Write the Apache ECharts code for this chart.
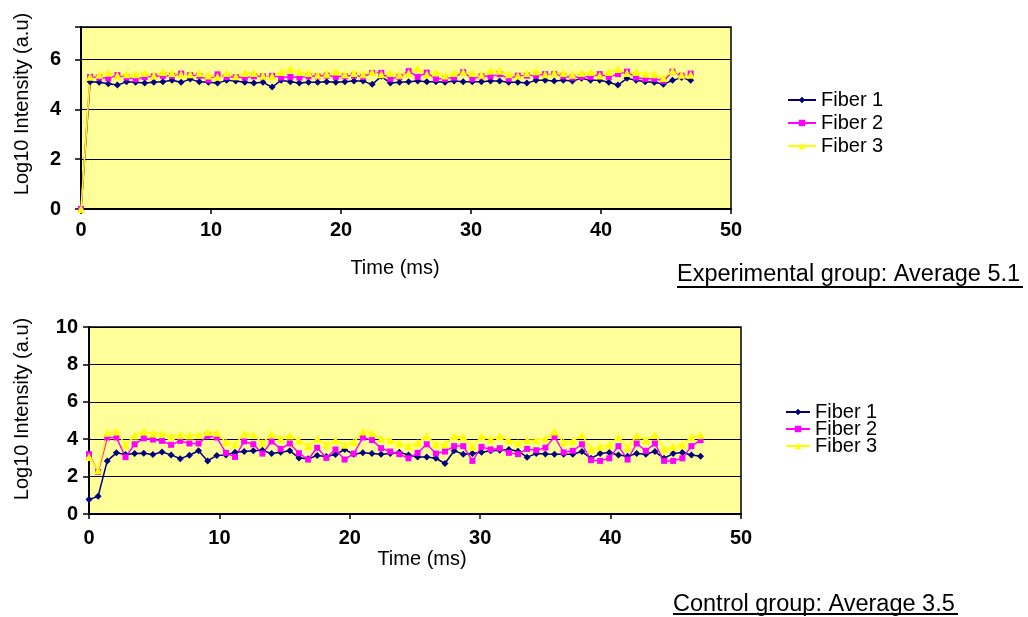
<!DOCTYPE html>
<html lang="en">
<head>
    <meta charset="UTF-8">
    <title>Fiber intensity</title>
    <script src="https://cdn.jsdelivr.net/npm/echarts@6/dist/echarts.min.js"></script>
</head>
<body style="margin:0;background:#fff;">
<div id="chart" style="width: 1028px;height: 617px;"></div>
<script>
    // time axis (ms), one sample every 0.7 ms
    var timeMs = [0,0.7,1.4,2.1,2.8,3.5,4.2,4.9,5.6,6.3,7,7.7,8.4,9.1,9.8,10.5,11.2,11.9,12.6,13.3,
        14,14.7,15.4,16.1,16.8,17.5,18.2,18.9,19.6,20.3,21,21.7,22.4,23.1,23.8,24.5,25.2,25.9,26.6,27.3,
        28,28.7,29.4,30.1,30.8,31.5,32.2,32.9,33.6,34.3,35,35.7,36.4,37.1,37.8,38.5,39.2,39.9,40.6,41.3,
        42,42.7,43.4,44.1,44.8,45.5,46.2,46.9];

    // experimental group (top chart)
    var expFiber1 = [0,5.10,5.08,5.02,4.97,5.10,5.08,5.05,5.08,5.10,5.16,5.08,5.21,5.10,5.08,5.05,5.16,5.13,5.08,5.05,5.08,4.89,5.16,
        5.10,5.05,5.08,5.08,5.10,5.08,5.10,5.13,5.13,5.00,5.32,5.05,5.08,5.10,5.13,5.10,5.10,5.08,5.13,5.10,5.10,5.10,5.13,
        5.13,5.08,5.08,5.05,5.16,5.16,5.13,5.16,5.13,5.24,5.16,5.16,5.08,4.97,5.24,5.16,5.10,5.08,5.00,5.16,5.27,5.16];
    var expFiber2 = [0,5.30,5.27,5.24,5.37,5.27,5.21,5.29,5.32,5.34,5.34,5.43,5.37,5.34,5.18,5.40,5.29,5.29,5.27,5.32,5.32,5.34,5.27,
        5.30,5.27,5.32,5.32,5.35,5.30,5.32,5.35,5.30,5.46,5.46,5.22,5.30,5.53,5.30,5.47,5.22,5.22,5.27,5.49,5.22,5.32,5.32,
        5.41,5.22,5.35,5.35,5.35,5.41,5.41,5.32,5.27,5.30,5.30,5.41,5.30,5.41,5.51,5.27,5.22,5.22,5.14,5.51,5.35,5.43];
    var expFiber3 = [0,5.30,5.38,5.46,5.35,5.40,5.40,5.45,5.35,5.50,5.45,5.40,5.40,5.45,5.35,5.30,5.45,5.32,5.45,5.45,5.35,5.33,5.50,
        5.62,5.50,5.45,5.38,5.42,5.52,5.40,5.45,5.40,5.50,5.40,5.45,5.38,5.45,5.64,5.40,5.48,5.35,5.45,5.50,5.45,5.38,5.55,
        5.55,5.40,5.35,5.45,5.53,5.40,5.45,5.45,5.38,5.45,5.50,5.35,5.50,5.62,5.45,5.50,5.42,5.40,5.25,5.55,5.38,5.38];

    // control group (bottom chart)
    var ctlFiber1 = [0.77,0.95,2.84,3.27,3.18,3.23,3.25,3.18,3.32,3.16,2.96,3.14,3.38,2.84,3.13,3.16,3.30,3.34,3.38,3.41,3.23,3.30,3.38,3.00,
        2.95,3.13,3.07,3.18,3.45,3.20,3.27,3.23,3.20,3.23,3.30,3.16,3.05,3.05,2.98,2.70,3.38,3.20,3.23,3.30,3.38,3.41,
        3.45,3.36,3.04,3.23,3.21,3.20,3.20,3.20,3.34,2.98,3.23,3.29,3.16,3.09,3.23,3.20,3.34,2.98,3.23,3.29,3.16,3.09];
    var ctlFiber2 = [3.20,2.25,4.09,4.09,3.04,3.73,4.05,3.98,3.91,3.70,3.91,3.77,3.77,4.18,4.09,3.27,3.05,3.88,3.73,3.23,3.88,3.48,3.77,3.25,
        2.91,3.54,3.00,3.45,2.91,3.23,4.09,3.95,3.52,3.34,3.20,2.98,3.27,3.73,3.23,3.34,3.63,3.63,2.84,3.59,3.45,3.52,
        3.27,3.20,3.48,3.41,3.55,4.12,3.30,3.38,3.73,2.88,2.84,2.98,3.63,2.91,3.77,3.38,3.77,2.84,2.84,2.98,3.63,3.95];
    var ctlFiber3 = [3.05,2.34,4.34,4.41,3.70,4.20,4.41,4.30,4.30,4.16,4.23,4.20,4.23,4.38,4.34,3.84,3.73,4.30,4.23,3.80,4.27,4.02,4.20,3.93,
        3.63,4.02,3.70,3.95,3.70,3.84,4.41,4.34,4.02,3.95,3.77,3.63,3.80,4.16,3.73,3.73,4.16,4.12,3.59,4.16,3.98,4.16,
        3.95,3.80,3.95,3.95,4.02,4.41,3.84,3.91,4.23,3.48,3.59,3.70,4.12,3.55,4.20,3.95,4.23,3.48,3.59,3.70,4.12,4.23];

    var fiberNames = ['Fiber 1', 'Fiber 2', 'Fiber 3'];
    var fiberColors = ['#000080', '#FF00FF', '#FFFF00'];
    var fiberSymbols = ['diamond', 'rect', 'triangle'];
    var fiberSymbolSizes = [7, 6, 8];

    var font = "'Liberation Sans', Arial, sans-serif";

    function pairs(values) {
        var out = [];
        for (var i = 0; i < values.length; i++) {
            out.push([timeMs[i], values[i]]);
        }
        return out;
    }

    function makeSeries(k, values, gridIdx) {
        return {
            name: fiberNames[k],
            type: 'line',
            xAxisIndex: gridIdx,
            yAxisIndex: gridIdx,
            data: pairs(values),
            symbol: fiberSymbols[k],
            symbolSize: fiberSymbolSizes[k],
            lineStyle: {color: fiberColors[k], width: 1.5},
            itemStyle: {color: fiberColors[k]},
            animation: false
        };
    }

    function xAxisOf(gridIdx, labelMargin, nameGap, namePad) {
        return {
            type: 'value',
            gridIndex: gridIdx,
            min: 0,
            max: 50,
            interval: 10,
            name: 'Time (ms)',
            nameLocation: 'middle',
            nameGap: nameGap,
            nameTextStyle: {color: '#000', fontSize: 20, fontFamily: font, padding: namePad},
            axisLine: {show: true, lineStyle: {color: '#000', width: 2}},
            axisTick: {show: true, length: 5, lineStyle: {color: '#000', width: 1.5}},
            axisLabel: {color: '#000', fontSize: 20, fontWeight: 'bold', fontFamily: font, margin: labelMargin},
            splitLine: {show: false}
        };
    }

    function yAxisOf(gridIdx, maxVal, labelMargin, nameGap, namePad) {
        return {
            type: 'value',
            gridIndex: gridIdx,
            min: 0,
            max: maxVal,
            interval: 2,
            name: 'Log10 Intensity (a.u)',
            nameLocation: 'middle',
            nameGap: nameGap,
            nameTextStyle: {color: '#000', fontSize: 20, fontFamily: font, padding: namePad},
            axisLine: {show: true, lineStyle: {color: '#000', width: 2}},
            axisTick: {show: true, length: 6, lineStyle: {color: '#000', width: 1.5}},
            axisLabel: {
                color: '#000', fontSize: 20, fontWeight: 'bold', fontFamily: font, margin: labelMargin,
                formatter: function (v) { return (v % 2 === 0) ? String(v) : ''; }
            },
            splitLine: {show: true, lineStyle: {color: '#000', width: 1}}
        };
    }

    var myChart = echarts.init(document.getElementById('chart'));
    var option = {
        backgroundColor: '#ffffff',
        animation: false,
        grid: [
            {left: 81, top: 27, width: 650, height: 182, show: true,
                backgroundColor: '#FFFF99', borderColor: '#000', borderWidth: 1.5},
            {left: 89, top: 327, width: 652, height: 187, show: true,
                backgroundColor: '#FFFF99', borderColor: '#000', borderWidth: 1.5}
        ],
        xAxis: [
            xAxisOf(0, 11, 49, [0, 22, 0, 0]),
            xAxisOf(1, 14, 35, [0, 0, 0, 14])
        ],
        yAxis: [
            yAxisOf(0, 7.3, 20, 49, [0, 0, 0, 28]),
            yAxisOf(1, 10, 11, 57, [0, 0, 0, 23])
        ],
        legend: [
            {
                left: 782, top: 85, orient: 'vertical',
                itemWidth: 28, itemHeight: 8, itemGap: 3,
                textStyle: {color: '#000', fontSize: 20, fontFamily: font, lineHeight: 20},
                data: fiberNames
            },
            {
                left: 780, top: 397, orient: 'vertical',
                itemWidth: 24, itemHeight: 8, itemGap: -3,
                textStyle: {color: '#000', fontSize: 20, fontFamily: font, lineHeight: 18},
                data: fiberNames
            }
        ],
        graphic: [
            {type: 'text', left: 677, top: 263,
                style: {text: 'Experimental group: Average 5.1', fill: '#000', font: '23.5px ' + font}},
            {type: 'line', shape: {x1: 677, y1: 287, x2: 1023, y2: 287},
                style: {stroke: '#000', lineWidth: 2}},
            {type: 'text', left: 673, top: 593,
                style: {text: 'Control group: Average 3.5', fill: '#000', font: '23.5px ' + font}},
            {type: 'line', shape: {x1: 673, y1: 614, x2: 958, y2: 614},
                style: {stroke: '#000', lineWidth: 2}}
        ],
        series: [
            makeSeries(0, expFiber1, 0),
            makeSeries(1, expFiber2, 0),
            makeSeries(2, expFiber3, 0),
            makeSeries(0, ctlFiber1, 1),
            makeSeries(1, ctlFiber2, 1),
            makeSeries(2, ctlFiber3, 1)
        ]
    };
    myChart.setOption(option);
</script>
</body>
</html>
